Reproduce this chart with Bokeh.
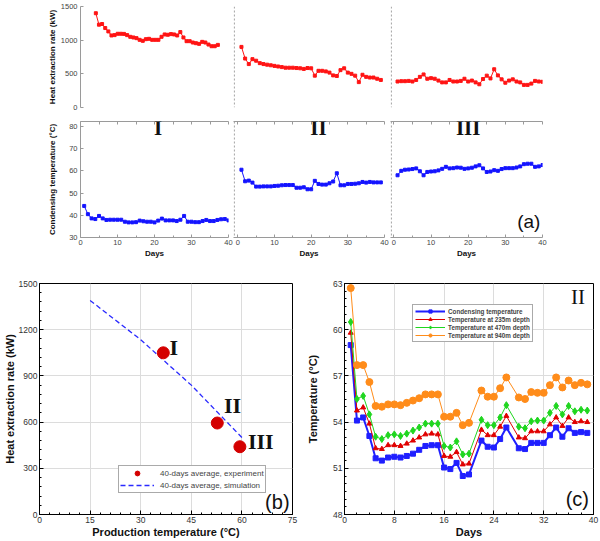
from bokeh.plotting import figure
from bokeh.layouts import row, column
from bokeh.models import (Range1d, Label, Span, LinearAxis, FixedTicker,
                          SingleIntervalTicker, Legend, LegendItem)
from bokeh.core.properties import value
from bokeh.embed import file_html
from bokeh.resources import INLINE

SANS = "Liberation Sans"
SERIF = "Liberation Serif"

# ---------------- data : panel (a) ----------------
days40 = list(range(1, 41))
days39 = list(range(1, 40))

heat_I = [1400, 1230, 1240, 1180, 1130, 1070, 1075, 1095, 1095, 1093, 1075, 1050, 1040,
          1030, 1005, 990, 1015, 1020, 1005, 1005, 1005, 1050, 1085, 1080, 1090, 1085,
          1070, 1120, 1040, 985, 985, 965, 955, 945, 975, 965, 935, 910, 910, 930]
temp_I = [44.2, 40.5, 38.6, 38.3, 39.7, 38.6, 37.9, 38.0, 38.0, 38.0, 38.0, 37.1, 36.8,
          36.8, 36.9, 37.6, 37.3, 37.1, 37.1, 36.8, 37.6, 38.5, 37.7, 37.7, 37.7, 37.4,
          38.0, 39.7, 37.1, 37.1, 36.9, 36.9, 37.4, 37.9, 37.4, 37.4, 37.9, 38.2, 38.3, 37.7]
heat_II = [900, 727, 645, 718, 695, 659, 645, 636, 627, 618, 609, 600, 591, 591, 591, 586,
           582, 573, 586, 582, 473, 545, 545, 536, 518, 477, 468, 555, 582, 518, 500, 473,
           377, 486, 455, 445, 445, 427, 409]
temp_II = [60.5, 55.3, 55.6, 54.7, 52.9, 52.9, 53.0, 53.0, 53.0, 53.2, 53.3, 53.5, 53.6,
           53.6, 53.6, 52.4, 52.4, 52.6, 51.7, 51.7, 55.5, 54.1, 53.8, 53.8, 54.4, 55.2,
           58.9, 53.5, 53.5, 54.1, 54.1, 54.2, 54.4, 55.0, 54.7, 55.0, 54.8, 54.8, 54.8]
heat_III = [386, 391, 391, 395, 386, 409, 455, 491, 427, 436, 427, 400, 373, 373, 409, 386,
            386, 395, 427, 386, 400, 373, 345, 423, 473, 432, 568, 477, 418, 368, 400, 418,
            386, 373, 336, 336, 355, 395, 386, 382]
temp_III = [58.0, 60.0, 60.5, 60.6, 60.8, 61.1, 59.8, 58.0, 59.5, 59.7, 59.8, 60.2, 60.9,
            61.8, 61.1, 61.2, 61.5, 61.4, 60.9, 61.1, 61.4, 62.0, 62.5, 61.1, 59.5, 59.7,
            60.3, 60.0, 60.8, 61.2, 61.2, 61.2, 61.5, 62.0, 63.0, 63.2, 63.2, 61.8, 62.0, 62.6]
roman = ["I", "II", "III"]
day_ticks = [0, 10, 20, 30, 40]

# ---------------- data : panel (b) ----------------
prod_temp = [36.7, 52.7, 59.4]
heat_avg = [1050, 594, 440]
sim_temp = [15, 30, 45, 60]
sim_heat = [1390, 1135, 840, 500]

# ---------------- data : panel (c) ----------------
days_c = list(range(1, 21)) + list(range(22, 27)) + list(range(28, 40))
t_cond = [59.0, 54.1, 54.3, 53.1, 51.65, 51.5, 51.7, 51.75, 51.7, 51.8, 51.95, 52.2, 52.45,
          52.5, 52.5, 51.05, 50.95, 51.35, 50.5, 50.6, 52.8, 52.4, 52.35, 52.9, 53.65,
          52.3, 52.25, 52.65, 52.65, 52.65, 53.15, 53.65, 53.05, 53.6, 53.3, 53.35, 53.3]
t_235 = [59.8, 54.75, 54.95, 53.9, 52.3, 52.25, 52.5, 52.5, 52.45, 52.6, 52.8, 53.0, 53.2,
         53.25, 53.2, 51.8, 51.75, 52.05, 51.25, 51.3, 53.5, 53.15, 53.15, 53.7, 54.4,
         53.0, 52.95, 53.4, 53.4, 53.4, 53.85, 54.3, 53.75, 54.3, 54.0, 54.05, 54.0]
t_470 = [60.5, 55.5, 55.7, 54.5, 53.05, 52.9, 53.15, 53.2, 53.1, 53.25, 53.45, 53.65, 53.9,
         53.9, 53.9, 52.45, 52.35, 52.75, 51.9, 51.95, 54.15, 53.8, 53.8, 54.3, 55.1,
         53.7, 53.6, 54.05, 54.1, 54.1, 54.6, 55.05, 54.5, 55.05, 54.7, 54.8, 54.75]
t_940 = [62.7, 57.7, 57.7, 56.6, 55.05, 55.0, 55.15, 55.15, 55.1, 55.25, 55.4, 55.55, 55.8,
         55.8, 55.8, 54.35, 54.35, 54.6, 53.8, 53.95, 56.05, 55.65, 55.65, 56.2, 56.9,
         55.6, 55.5, 55.95, 55.9, 55.9, 56.4, 56.9, 56.25, 56.7, 56.4, 56.55, 56.45]
legend_c = ["Condensing temperature", "Temperature at 235m depth",
            "Temperature at 470m depth", "Temperature at 940m depth"]

RED = "#ff1414"
BLUE = "#1414ff"
GRAYAX = "#9a9a9a"


def fig(width, height, xr, yr, **kw):
    p = figure(width=width, height=height, x_range=xr, y_range=yr,
               output_backend="svg", toolbar_location=None, **kw)
    p.outline_line_color = None
    for g in p.grid:
        g.visible = False
    return p


def style_ax(ax, lab_size, title_size, lab_color="#444", line_color=GRAYAX):
    ax.axis_line_color = line_color
    ax.major_tick_line_color = line_color
    ax.minor_tick_line_color = line_color
    ax.major_label_text_font = SANS
    ax.major_label_text_font_size = lab_size
    ax.major_label_text_color = lab_color
    ax.axis_label_text_font = SANS
    ax.axis_label_text_font_size = title_size
    ax.axis_label_text_font_style = "bold"
    ax.axis_label_text_color = "#111"


# ---------------- panel (a) ----------------
HH, HT = 112, 149
TEMP_TOP = 82.2
col_specs = [
    # heat days, heat data, temp days, temp data, heat x-range, temp x-range, width, left, right, roman x
    (days40, heat_I, days40, temp_I, (-3.9, 43.4), (0, 40), 233, 80, 5, 21),
    (days39, heat_II, days39, temp_II, (-1.17, 40), (-1.17, 40), 157, 0, 6, 22),
    (days40, heat_III, days40, temp_III, (-0.9, 40), (-0.9, 40), 209, 0, 57, 20),
]

cols = []
for i, (hd, hv, td, tv, hxr, txr, w, ml, mr, rx) in enumerate(col_specs):
    first = i == 0
    hk = dict(x_axis_location=None, min_border_left=ml, min_border_right=mr,
              min_border_top=6, min_border_bottom=5)
    tk = dict(min_border_left=ml, min_border_right=mr, min_border_top=9, min_border_bottom=24)
    if not first:
        hk["y_axis_location"] = None
        tk["y_axis_location"] = None
    ph = fig(w, HH, Range1d(*hxr), Range1d(0, 1500), **hk)
    pt = fig(w, HT, Range1d(*txr), Range1d(30, TEMP_TOP), **tk)

    ph.line(hd, hv, line_color=RED, line_width=1)
    ph.scatter(hd, hv, marker="square", size=3, fill_color=RED, line_color=RED)
    pt.line(td, tv, line_color=BLUE, line_width=1)
    pt.scatter(td, tv, marker="square", size=3, fill_color=BLUE, line_color=BLUE)

    if first:
        ya = ph.yaxis[0]
        ya.ticker = FixedTicker(ticks=[0, 500, 1000, 1500])
        style_ax(ya, "7.5px", "8px")
        ya.axis_label = "Heat extraction rate (kW)"
        ya.major_tick_in, ya.major_tick_out = 3, 0
        ya.major_label_standoff = 3
        ya.axis_label_standoff = 1
        yb = pt.yaxis[0]
        yb.ticker = FixedTicker(ticks=[30, 40, 50, 60, 70, 80])
        style_ax(yb, "7.5px", "8px")
        yb.axis_label = "Condensing temperature (°C)"
        yb.major_tick_in, yb.major_tick_out = 3, 0
        yb.major_label_standoff = 3
        yb.axis_label_standoff = 9
    else:
        for p in (ph, pt):
            p.add_layout(Span(location=txr[0] + 0.22, dimension="height",
                              line_color=GRAYAX, line_dash="2 2", line_width=1))

    xa = pt.xaxis[0]
    xa.ticker = FixedTicker(ticks=day_ticks, minor_ticks=[5, 15, 25, 35])
    style_ax(xa, "7.5px", "8px")
    xa.axis_label = "Days"
    xa.major_tick_in, xa.major_tick_out = 3, 0
    xa.minor_tick_in, xa.minor_tick_out = 2, 0
    xa.major_label_standoff = 2
    xa.axis_label_standoff = 1

    top_ax = LinearAxis(ticker=FixedTicker(ticks=day_ticks, minor_ticks=[5, 15, 25, 35]),
                        major_label_overrides={t: "" for t in day_ticks})
    style_ax(top_ax, "7.5px", "8px")
    top_ax.major_label_standoff = 0
    top_ax.major_tick_in, top_ax.major_tick_out = 3, 0
    top_ax.minor_tick_in, top_ax.minor_tick_out = 3, 0
    pt.add_layout(top_ax, "above")

    pt.add_layout(Label(x=rx, y=TEMP_TOP, y_offset=-6, text=roman[i], text_font=SERIF,
                        text_font_style="bold", text_font_size="21px",
                        text_align="center", text_baseline="alphabetic", text_color="#111"))
    if i == 2:
        pt.add_layout(Label(x=36.3, y=37.2, text="(a)", text_font=SANS,
                            text_font_size="19px", text_align="center",
                            text_baseline="middle", text_color="#111"))
    cols.append(column(ph, pt, spacing=0))

row_a = row(*cols, spacing=0)

# ---------------- panel (b) ----------------
BH = 279


def frame_style(p, xt, yt):
    p.outline_line_color = "black"
    p.outline_line_width = 1
    for ax in (p.xaxis[0], p.yaxis[0]):
        style_ax(ax, "8.5px", "11px", lab_color="#333", line_color="black")
        ax.major_tick_in, ax.major_tick_out = 4, 0
        ax.minor_tick_in, ax.minor_tick_out = 2, 0
        ax.major_label_standoff = 2
        ax.axis_label_standoff = 0
    p.xaxis[0].ticker = xt
    p.yaxis[0].ticker = yt
    p.xgrid[0].ticker = xt
    p.ygrid[0].ticker = yt
    for g in p.grid:
        g.visible = True
        g.grid_line_color = "#dcdcdc"
        g.grid_line_width = 1


pb = figure(width=300, height=BH, x_range=Range1d(0, 75), y_range=Range1d(0, 1500),
            min_border_left=37, min_border_right=8, min_border_top=22, min_border_bottom=26,
            output_backend="svg", toolbar_location=None)
frame_style(pb, SingleIntervalTicker(interval=15, num_minor_ticks=5),
            SingleIntervalTicker(interval=300, num_minor_ticks=5))
pb.xaxis[0].axis_label = "Production temperature (°C)"
pb.yaxis[0].axis_label = "Heat extraction rate (kW)"

sim_r = pb.line(sim_temp, sim_heat, line_color="#2a2aff", line_dash="5 3", line_width=1.3)
exp_r = pb.scatter(prod_temp, heat_avg, marker="circle", size=12,
                   fill_color="#d40000", line_color="#d40000")
pb.text(x=[39.8, 57.2, 65.6], y=[1085, 705, 476], text=roman,
        text_font=value(SERIF), text_font_style="bold", text_font_size="22px",
        text_align="center", text_baseline="middle", text_color="#111")
pb.add_layout(Label(x=70.5, y=80, text="(b)", text_font=SANS, text_font_size="20px",
                    text_align="center", text_baseline="middle", text_color="#111"))
leg_b = Legend(items=[LegendItem(label="40-days average, experiment", renderers=[exp_r]),
                      LegendItem(label="40-days average, simulation", renderers=[sim_r])],
               location=(79, 21))
leg_b.label_text_font = SANS
leg_b.label_text_font_size = "8px"
leg_b.label_height = 11
leg_b.glyph_height = 12
leg_b.glyph_width = 34
leg_b.label_standoff = 6
leg_b.padding = 1
leg_b.spacing = 0
leg_b.margin = 0
leg_b.border_line_color = "#555"
leg_b.border_line_width = 1
pb.add_layout(leg_b)

# ---------------- panel (c) ----------------
pc = figure(width=299, height=BH, x_range=Range1d(0, 40), y_range=Range1d(48, 63),
            min_border_left=44, min_border_right=6, min_border_top=22, min_border_bottom=26,
            output_backend="svg", toolbar_location=None)
frame_style(pc, SingleIntervalTicker(interval=8, num_minor_ticks=4),
            SingleIntervalTicker(interval=3, num_minor_ticks=6))
pc.xaxis[0].axis_label = "Days"
pc.yaxis[0].axis_label = "Temperature (°C)"
pc.yaxis[0].axis_label_standoff = 11

series = [
    (t_cond, "#1f1fff", "square", 5, 2.0),
    (t_235, "#e00000", "triangle", 5, 1.0),
    (t_470, "#1fd61f", "diamond", 7, 1.0),
    (t_940, "#ff8c1a", "circle", 7, 1.0),
]
items = []
for (vals, colr, mk, sz, lw), lab in zip(series, legend_c):
    r1 = pc.line(days_c, vals, line_color=colr, line_width=lw)
    r2 = pc.scatter(days_c, vals, marker=mk, size=sz, fill_color=colr, line_color=colr)
    items.append(LegendItem(label=lab, renderers=[r1, r2]))
pc.add_layout(Label(x=37.5, y=62.15, text="II", text_font=SERIF, text_font_size="21px",
                    text_align="center", text_baseline="middle", text_color="#111"))
pc.add_layout(Label(x=37.4, y=49.0, text="(c)", text_font=SANS, text_font_size="20px",
                    text_align="center", text_baseline="middle", text_color="#111"))
leg_c = Legend(items=items, location=(68, 172))
leg_c.label_text_font = SANS
leg_c.label_text_font_style = "bold"
leg_c.label_text_font_size = "6.3px"
leg_c.label_height = 8
leg_c.glyph_height = 8
leg_c.glyph_width = 30
leg_c.label_standoff = 3
leg_c.padding = 2
leg_c.spacing = 0
leg_c.margin = 0
leg_c.border_line_color = "#555"
leg_c.border_line_width = 1
pc.add_layout(leg_c)

row_bc = row(pb, pc, spacing=0)
layout = column(row_a, row_bc, spacing=0)

open("out.html", "w").write(file_html(layout, INLINE))
